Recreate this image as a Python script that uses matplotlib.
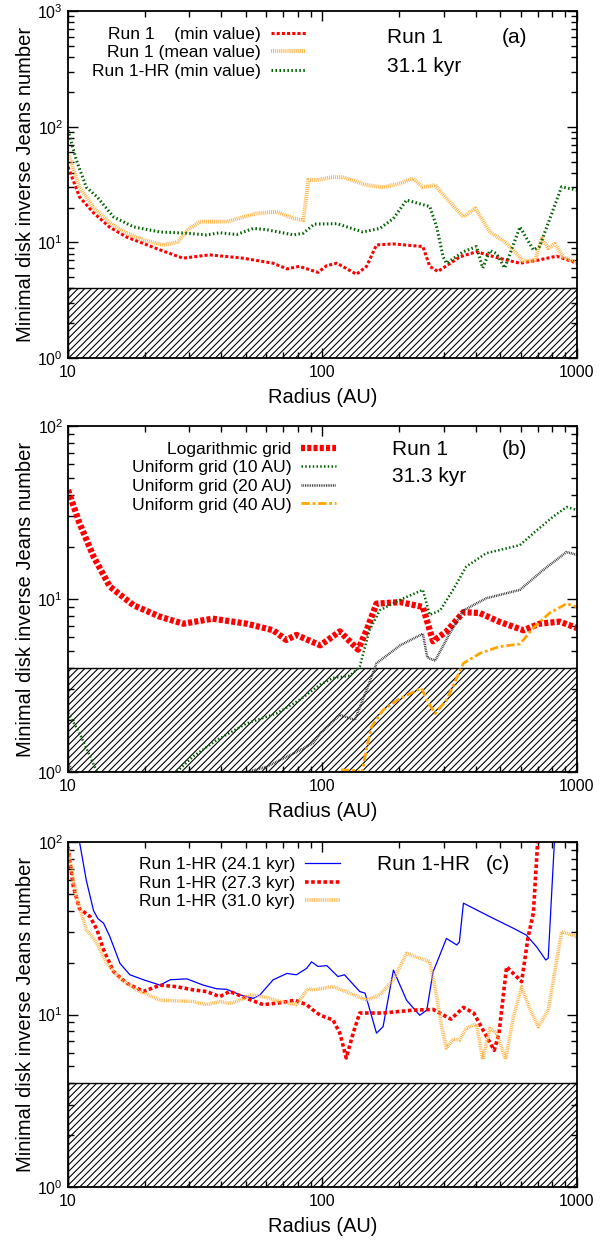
#!/usr/bin/env python3
import matplotlib
matplotlib.use("Agg")
import matplotlib.pyplot as plt
from matplotlib import ticker

plt.rcParams['font.family'] = ['Liberation Sans', 'DejaVu Sans']
plt.rcParams['hatch.linewidth'] = 0.8

# ---- panel (a): Run 1, 31.1 kyr
r_a_min = [10, 11.1, 12.6, 14.6, 17, 20, 23, 28.3, 36, 48.7, 64, 72.5, 81, 96, 104, 114,
           136, 149, 163, 189, 248, 264, 284, 347, 403, 494, 597, 700, 832, 1000]
v_a_min = [45, 24.7, 18, 13.5, 11.1, 9.7, 8.6, 7.3, 7.8, 7.3, 6.6, 5.9, 6.2, 5.5, 6.3, 6.6,
           5.3, 6.2, 9.5, 9.7, 9.2, 6.2, 5.6, 7.5, 8.3, 7.3, 6.6, 7.0, 7.6, 6.6]

r_a_mean = [10, 11.1, 12.6, 14.6, 17, 19.8, 23.7, 27, 29.6, 33, 42, 55, 66, 77, 84, 88, 95,
            108, 120, 149, 173, 202, 227, 248, 277, 307, 358, 398, 455, 530, 616, 684, 727,
            771, 818, 883, 1000]
v_a_mean = [59, 30, 20, 14.7, 12, 10.5, 9.5, 10.1, 12.8, 15.1, 15.1, 17.8, 18.4, 16.1, 15.5,
            34.6, 34.6, 36.5, 36.7, 31.3, 30, 32.4, 35.7, 30, 31.3, 24, 16.6, 19.7, 12.3, 9.8,
            6.9, 7.0, 10.8, 8.9, 9.7, 7.5, 6.6]

r_a_hr = [10, 10.8, 11.8, 13, 15.1, 18.1, 23, 29.3, 35, 39.5, 46, 53.5, 60, 77, 84, 93, 114,
          144, 168, 190, 214, 264, 281, 298, 307, 358, 403, 426, 455, 483, 520, 597, 674, 713,
          870, 1000]
v_a_hr = [93, 51, 30, 24.8, 16.6, 13.6, 12.3, 12, 11.6, 12.1, 11.7, 13.2, 12.9, 11.6, 12, 14.4,
          14.5, 12.3, 13.2, 16.1, 23.2, 20.4, 13.6, 7.5, 6.6, 8.3, 9.2, 6.0, 8.5, 8.0, 6.0, 13.6,
          8.6, 9.2, 30.2, 28.3]

# ---- panel (b): Run 1, 31.3 kyr, grid comparison
r_b_log = [10, 11.1, 12.6, 14.6, 18.1, 23, 28.4, 37, 50.4, 64, 72, 79, 98, 117, 138, 149, 163,
           202, 248, 272, 307, 358, 415, 494, 616, 713, 856, 1000]
v_b_log = [42.7, 27.4, 17.6, 11.8, 9.2, 7.9, 7.2, 7.7, 7.2, 6.6, 5.8, 6.2, 5.4, 6.5, 5.1, 6.6,
           9.4, 9.6, 9.0, 5.7, 6.5, 8.4, 8.3, 7.4, 6.6, 7.2, 7.4, 6.8]

r_b_u10 = [10, 11.1, 13, 16, 20, 26.7, 31, 38.4, 50.4, 66, 81, 98, 110, 128, 140, 153, 168,
           202, 248, 264, 290, 326, 367, 440, 597, 674, 805, 910, 1000]
v_b_u10 = [2.2, 1.68, 1.0, 0.75, 0.7, 1.0, 1.23, 1.53, 1.91, 2.18, 2.6, 3.2, 3.5, 3.6, 4.06,
           6.6, 8.6, 9.9, 11.3, 8.1, 8.6, 11.3, 15.4, 18.4, 20.5, 24, 29.9, 34, 32.7]

r_b_u20 = [10, 10.2, 11, 15, 25, 40, 50.4, 60, 77, 92, 98, 117, 134, 149, 163, 202, 248, 258,
           277, 316, 358, 440, 597, 736, 910, 1000]
v_b_u20 = [1.12, 1.07, 0.85, 0.6, 0.6, 0.8, 1.0, 1.07, 1.28, 1.47, 1.67, 2.14, 2.0, 2.98, 4.25,
           5.4, 6.3, 4.6, 4.4, 6.3, 8.6, 10.1, 11.3, 14.7, 18.7, 18]

r_b_u40 = [105, 118, 135, 143, 149, 156, 173, 202, 245, 257, 277, 307, 358, 415, 494, 597, 674,
           780, 910, 1000]
v_b_u40 = [0.9, 1.03, 1.02, 0.99, 1.37, 1.83, 2.28, 2.67, 3.05, 2.6, 2.18, 2.6, 4.25, 4.85,
           5.3, 5.5, 6.8, 8.3, 9.4, 9.0]

# ---- panel (c): Run 1-HR at three times
r_c_241 = [10, 10.5, 11.1, 11.8, 12.6, 13.1, 13.8, 14.6, 16, 17.5, 19.8, 23, 25.2, 29.3, 34,
           38.4, 42, 47.5, 53.5, 56.8, 64, 72.5, 79, 86.6, 90.6, 96, 104, 115, 122, 140, 147,
           163, 173, 190, 214, 241, 257, 272, 284, 307, 337, 345, 358, 455, 563, 632, 694, 754,
           771, 818, 830]
v_c_241 = [220, 150, 100, 60, 40, 36, 33.8, 28.3, 19.8, 17, 15.9, 14.8, 15.9, 16.1, 14.8, 14.1,
           14, 13, 12.4, 13, 15.9, 17.3, 17, 18.5, 20.2, 19, 19.2, 16.6, 17, 13.6, 13.3, 7.8,
           8.5, 18.1, 12.1, 9.9, 10.6, 17.7, 20.7, 27.6, 25.3, 26.3, 44.2, 36.9, 31.6, 28.9,
           24.7, 20.7, 21.2, 110, 150]

r_c_273 = [10, 10.5, 11.1, 12.2, 13, 13.8, 15.1, 17, 19.8, 23, 26.7, 31, 35, 39.5, 43.2, 50.4,
           58.5, 68, 78, 86.6, 92, 98, 110, 117, 124, 132, 140, 173, 227, 272, 320, 358, 393,
           428, 473, 494, 529, 606, 643, 674, 700, 720]
v_c_273 = [93.6, 55, 41, 37, 31, 23.7, 17.7, 15.2, 13.6, 14.8, 14.5, 13.9, 13.6, 12.7, 13.6,
           12.4, 11.4, 11.7, 12.1, 11.4, 10.6, 9.9, 9.3, 7.8, 5.6, 7.8, 10.2, 10.2, 10.6, 10.7,
           9.4, 11, 10.2, 8.1, 6.2, 7.8, 18.9, 15.5, 28.3, 38.6, 98, 130]

r_c_310 = [10, 10.8, 11.8, 12.6, 13, 14.2, 16, 18.6, 23, 31, 35, 39.5, 43.2, 47.5, 51.8, 58.5,
           68, 79, 88, 92, 110, 128, 149, 168, 190, 214, 241, 264, 281, 294, 307, 326, 345,
           367, 403, 426, 455, 483, 524, 563, 606, 655, 705, 771, 870, 1000]
v_c_310 = [92, 48, 31, 27.6, 25.8, 19.8, 16.2, 13.9, 12.1, 11.9, 11.4, 11.9, 11.6, 12.1, 13,
           12.7, 11.9, 11.4, 14.2, 13.9, 14.5, 13.3, 12.1, 13, 15.9, 22.6, 21.2, 20.2, 12.7,
           8.5, 6.4, 7.2, 7.1, 8.3, 8.8, 5.5, 8.3, 7.8, 5.5, 9.7, 14.5, 10.6, 8.5, 10.6, 30.2,
           28.3]

J_LIMIT = 4
LEFT, WIDTH = 0.1113, 0.833
TICK_FS = 11.5
LABEL_FS = 14.5
LEG_FS = 12.6
NOTE_FS = 15


def setup_axes(ax, ytop):
    ax.set_xscale('log')
    ax.set_yscale('log')
    ax.set_xlim(10, 1000)
    ax.set_ylim(1, ytop)
    # forbidden zone below the Jeans criterion
    ax.axhspan(1, J_LIMIT, facecolor='none', edgecolor='black', hatch='/////', linewidth=1.0,
               zorder=1)
    ax.xaxis.set_major_formatter(ticker.FormatStrFormatter('%g'))
    ax.xaxis.set_minor_formatter(ticker.NullFormatter())
    ax.tick_params(which='both', direction='in', top=True, right=True, labelsize=TICK_FS)
    ax.tick_params(which='major', length=7, width=1)
    ax.tick_params(which='minor', length=4, width=1)
    ax.tick_params(axis='x', which='major', pad=5)
    for s in ax.spines.values():
        s.set_linewidth(1.3)
    ax.set_xlabel('Radius (AU)', fontsize=LABEL_FS, labelpad=6)
    ax.set_ylabel('Minimal disk inverse Jeans number', fontsize=LABEL_FS, labelpad=2)


def add_legend(ax, xr, ytop):
    ax.legend(loc='upper right', bbox_to_anchor=(xr, ytop), frameon=False, markerfirst=False,
              fontsize=LEG_FS, handlelength=2.0, handletextpad=0.55, labelspacing=0.19,
              borderpad=0, borderaxespad=0)


fig = plt.figure(figsize=(6.11, 12.41), dpi=100)

# (a)
ax = fig.add_axes([LEFT, 0.7115, WIDTH, 0.2796])
setup_axes(ax, 1000)
ax.plot(r_a_min, v_a_min, color='#ff0000', lw=2.2, ls=(0, (1, 0.7)), label='Run 1    (min value)')
ax.plot(r_a_mean, v_a_mean, color='#ffb347', lw=2.8, ls=(0, (0.25, 0.25)),
        label='Run 1 (mean value)')
ax.plot(r_a_hr, v_a_hr, color='#006400', lw=2.2, ls=(0, (0.5, 0.8)), label='Run 1-HR (min value)')
add_legend(ax, 0.4676, 0.955)
ax.text(0.627, 0.907, 'Run 1', transform=ax.transAxes, fontsize=NOTE_FS, va='baseline')
ax.text(0.627, 0.825, '31.1 kyr', transform=ax.transAxes, fontsize=NOTE_FS, va='baseline')
ax.text(0.902, 0.907, '(a)', transform=ax.transAxes, fontsize=NOTE_FS, va='baseline', ha='right')

# (b)
ax = fig.add_axes([LEFT, 0.3779, WIDTH, 0.2788])
setup_axes(ax, 100)
ax.plot(r_b_log, v_b_log, color='#ff0000', lw=4.5, ls=(0, (0.65, 0.35)), label='Logarithmic grid')
ax.plot(r_b_u10, v_b_u10, color='#006400', lw=1.8, ls=(0, (0.6, 0.9)), label='Uniform grid (10 AU)')
ax.plot(r_b_u20, v_b_u20, color='#333333', lw=1.8, ls=(0, (0.35, 0.35)),
        label='Uniform grid (20 AU)')
ax.plot(r_b_u40, v_b_u40, color='#ffa500', lw=2.0, ls=(0, (3, 1, 1, 1)),
        label='Uniform grid (40 AU)')
add_legend(ax, 0.527, 0.955)
ax.text(0.637, 0.916, 'Run 1', transform=ax.transAxes, fontsize=NOTE_FS, va='baseline')
ax.text(0.637, 0.839, '31.3 kyr', transform=ax.transAxes, fontsize=NOTE_FS, va='baseline')
ax.text(0.902, 0.916, '(b)', transform=ax.transAxes, fontsize=NOTE_FS, va='baseline', ha='right')

# (c)
ax = fig.add_axes([LEFT, 0.0435, WIDTH, 0.278])
setup_axes(ax, 100)
ax.plot(r_c_241, v_c_241, color='#0000ff', lw=0.9, label='Run 1-HR (24.1 kyr)')
ax.plot(r_c_273, v_c_273, color='#ff0000', lw=2.6, ls=(0, (1, 0.7)), label='Run 1-HR (27.3 kyr)')
ax.plot(r_c_310, v_c_310, color='#ffb347', lw=2.6, ls=(0, (0.25, 0.25)),
        label='Run 1-HR (31.0 kyr)')
add_legend(ax, 0.534, 0.957)
ax.text(0.607, 0.919, 'Run 1-HR', transform=ax.transAxes, fontsize=NOTE_FS, va='baseline')
ax.text(0.868, 0.919, '(c)', transform=ax.transAxes, fontsize=NOTE_FS, va='baseline', ha='right')

fig.savefig('out.png', dpi=100)
